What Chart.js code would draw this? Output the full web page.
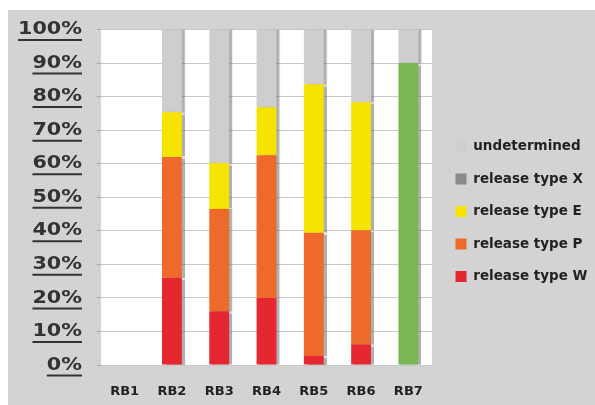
<!DOCTYPE html>
<html>
<head>
<meta charset="utf-8">
<script src="https://cdn.jsdelivr.net/npm/chart.js@4"></script>
<style>
  html, body { margin: 0; padding: 0; background: #ffffff; }
  #frame { position: absolute; left: 8px; top: 10px; width: 587px; height: 395px; background: #d3d3d3; }
</style>
</head>
<body>
<div id="frame"><canvas id="c"></canvas></div>
<script>
// Release breakdown per batch, in percent of the batch
const categories = ['RB1', 'RB2', 'RB3', 'RB4', 'RB5', 'RB6', 'RB7'];
const releaseW = [0, 26, 16, 20, 2.7, 6.2, 0];
const releaseP = [0, 36, 30.5, 42.5, 36.7, 34, 0];
const releaseE = [0, 13.3, 13.7, 14.3, 44.3, 38.1, 0];
const releaseX = [0, 0, 0, 0, 0, 0, 0];
const undetermined = [0, 24.7, 39.8, 23.2, 16.3, 21.7, 10];
const released = [0, 0, 0, 0, 0, 0, 90];
const yTicks = [0, 10, 20, 30, 40, 50, 60, 70, 80, 90, 100];

const FONT = 'DejaVu Sans';
const Y_FONT = { family: FONT, size: 18, weight: 'bold' };
const Y_STRETCH = 1.15;    // wide-set percentage labels
const Y_PAD = 15;
const Y_TICK_LEN = 4;
const LEGEND_WIDTH = 163;
const LEGEND_SHIFT = 4.5;

// white plot area on the grey frame
const plotBackground = {
  id: 'plotBackground',
  beforeDraw(chart) {
    const { ctx, chartArea: a } = chart;
    ctx.save();
    ctx.fillStyle = '#ffffff';
    ctx.fillRect(a.left, a.top, a.right - a.left, a.bottom - a.top);
    ctx.restore();
  }
};

// fixed-width legend column on the right, stretched percentage labels
const layoutTweaks = {
  id: 'layoutTweaks',
  beforeLayout(chart) {
    const lg = chart.legend;
    if (lg && !lg.__fixedWidth) {
      const fit = lg.fit.bind(lg);
      lg.fit = function () { fit(); this.width = LEGEND_WIDTH; };
      lg.__fixedWidth = true;
    }
  },
  afterLayout(chart) {
    const lg = chart.legend;
    if (lg) { lg.left += LEGEND_SHIFT; lg.right += LEGEND_SHIFT; }
    const ys = chart.scales.y;
    if (ys && !ys.__stretched) {
      const drawLabels = ys.drawLabels.bind(ys);
      ys.drawLabels = function (area) {
        const c = this.ctx;
        const ax = this.right - Y_TICK_LEN - Y_PAD;
        c.save();
        c.translate(ax, 0);
        c.scale(Y_STRETCH, 1);
        c.translate(-ax, 0);
        drawLabels(area);
        c.restore();
      };
      ys.__stretched = true;
    }
  }
};

// soft drop shadow to the right of each bar
const barShadow = {
  id: 'barShadow',
  beforeDatasetsDraw(chart) {
    const ctx = chart.ctx;
    ctx.save();
    ctx.shadowColor = 'rgba(110,110,110,0.55)';
    ctx.shadowOffsetX = 3;
    ctx.shadowOffsetY = 0;
    ctx.shadowBlur = 1;
  },
  afterDatasetsDraw(chart) {
    chart.ctx.restore();
  }
};

// underline under each percentage label of the value axis
const underlineTicks = {
  id: 'underlineTicks',
  afterDraw(chart) {
    const { ctx } = chart;
    const y = chart.scales.y;
    ctx.save();
    ctx.font = `bold ${Y_FONT.size}px ${FONT}`;
    ctx.strokeStyle = '#333333';
    ctx.lineWidth = 2;
    const right = y.right - Y_TICK_LEN - Y_PAD;
    y.ticks.forEach((t, i) => {
      const py = y.getPixelForTick(i);
      const w = ctx.measureText(t.label).width * Y_STRETCH;
      ctx.beginPath();
      ctx.moveTo(right - w, py + 10.5);
      ctx.lineTo(right, py + 10.5);
      ctx.stroke();
    });
    ctx.restore();
  }
};

const barOpts = { barPercentage: 0.42, categoryPercentage: 1.0, borderWidth: 0 };

new Chart(document.getElementById('c'), {
  type: 'bar',
  data: {
    labels: categories,
    datasets: [
      { label: 'other', data: released, backgroundColor: '#79b852', ...barOpts },
      { label: 'release type W', data: releaseW, backgroundColor: '#e5282f', ...barOpts },
      { label: 'release type P', data: releaseP, backgroundColor: '#ee6a2b', ...barOpts },
      { label: 'release type E', data: releaseE, backgroundColor: '#f6e300', ...barOpts },
      { label: 'release type X', data: releaseX, backgroundColor: '#8a8a8a', ...barOpts },
      { label: 'undetermined', data: undetermined, backgroundColor: '#cecece', ...barOpts }
    ]
  },
  options: {
    responsive: true,
    maintainAspectRatio: false,
    animation: false,
    layout: { padding: { top: 8, right: 0, bottom: 0, left: 0 } },
    plugins: {
      legend: {
        position: 'right',
        reverse: true,
        maxWidth: LEGEND_WIDTH,
        labels: {
          filter: (item) => item.text !== 'other',
          boxWidth: 11,
          boxHeight: 11,
          padding: 19,
          color: '#222222',
          font: { family: FONT, size: 13.5, weight: 'bold' }
        }
      },
      tooltip: { enabled: false }
    },
    scales: {
      x: {
        stacked: true,
        grid: { display: false, drawTicks: false },
        border: { display: false },
        afterFit: (scale) => {
          scale.height = 40;
          scale.paddingLeft = 0;
          scale.paddingRight = 0;
        },
        ticks: {
          padding: 19,
          color: '#222222',
          font: { family: FONT, size: 13, weight: 'bold' }
        }
      },
      y: {
        stacked: true,
        min: 0,
        max: 100,
        afterBuildTicks: (scale) => { scale.ticks = yTicks.map(v => ({ value: v })); },
        afterFit: (scale) => {
          scale.width = 93;
          scale.paddingTop = 19.5;
          scale.paddingBottom = 0;
        },
        grid: { color: '#c8c8c8', tickColor: '#a8a8a8', tickLength: Y_TICK_LEN, lineWidth: 1 },
        border: { display: false },
        ticks: {
          padding: Y_PAD,
          color: '#333333',
          font: Y_FONT,
          callback: (v) => v + '%'
        }
      }
    }
  },
  plugins: [plotBackground, layoutTweaks, barShadow, underlineTicks]
});
</script>
</body>
</html>
